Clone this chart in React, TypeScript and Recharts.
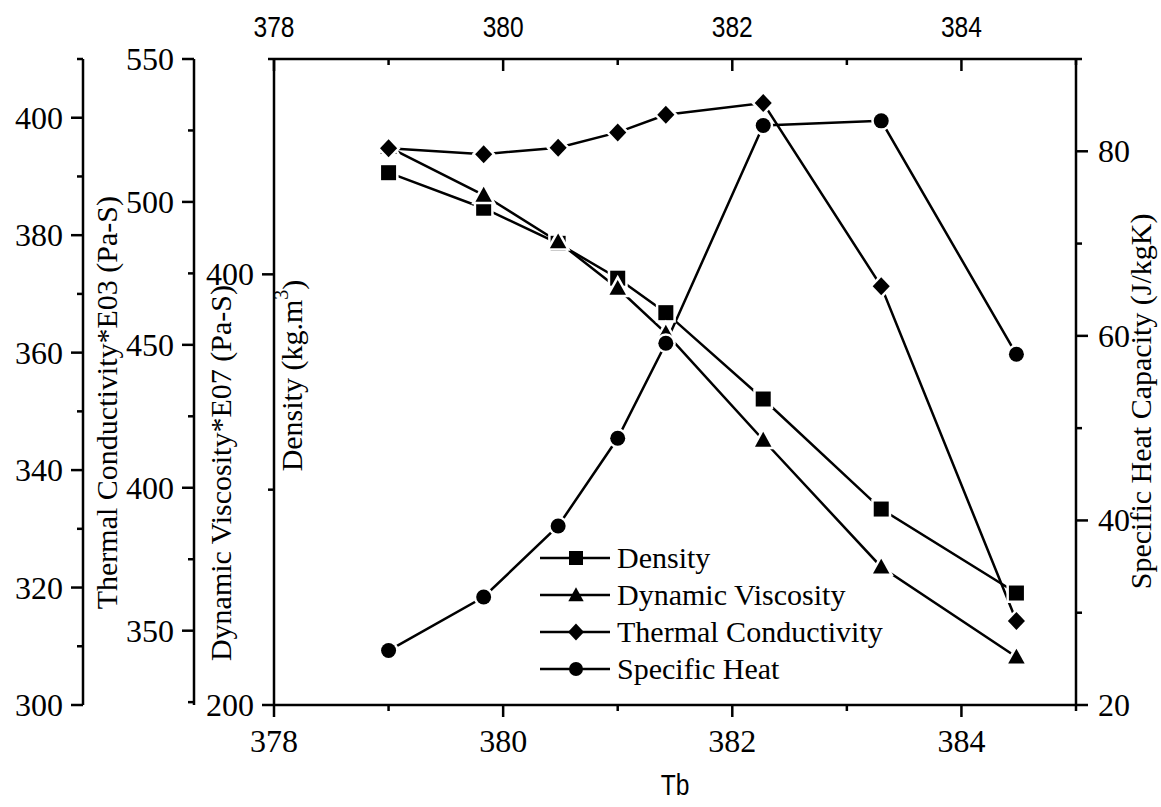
import React from "react";
import { LineChart, Line, XAxis, YAxis, Legend } from "recharts";

// boiling temperature (Tb) and the four properties
const tb = [379.0, 379.83, 380.48, 381.0, 381.42, 382.27, 383.3, 384.48];
const density = [447.2, 430.7, 414.4, 398.2, 382.2, 342.1, 291.0, 252.0];
const viscosity = [519.2, 502.4, 486.1, 469.8, 454.1, 416.7, 372.3, 340.8];
const thermal = [394.8, 393.8, 394.9, 397.5, 400.5, 402.5, 371.3, 314.3];
const specificHeat = [25.9, 31.7, 39.4, 48.9, 59.2, 82.8, 83.3, 58.0];

const tbTicks = [378, 379, 380, 381, 382, 383, 384, 385];
const tbLabels = [378, 380, 382, 384];
const densityTicks = [200, 300, 400, 500];
const densityLabels = [200, 400];
const viscosityTicks = [325, 350, 375, 400, 425, 450, 475, 500, 525, 550];
const viscosityLabels = [350, 400, 450, 500, 550];
const thermalTicks = [300, 310, 320, 330, 340, 350, 360, 370, 380, 390, 400, 410];
const thermalLabels = [300, 320, 340, 360, 380, 400];
const heatTicks = [20, 30, 40, 50, 60, 70, 80, 90];
const heatLabels = [20, 40, 60, 80];

const data = tb.map((t, i) => ({
  tb: t,
  density: density[i],
  viscosity: viscosity[i],
  thermal: thermal[i],
  heat: specificHeat[i],
}));

const serif = "'Liberation Serif', 'Times New Roman', serif";
const sans = "'Liberation Sans', Arial, sans-serif";
const axisStroke = { stroke: "#000", strokeWidth: 2.5 };

type Shape = "square" | "triangle" | "diamond" | "circle";

const shapes: Record<string, Shape> = {
  density: "square",
  viscosity: "triangle",
  thermal: "diamond",
  heat: "circle",
};
const legendOrder = ["density", "viscosity", "thermal", "heat"];

function Marker({ shape, cx, cy, size = 15, halo = 5 }: any) {
  const s = size / 2;
  const common = { fill: "#000", stroke: "#fff", strokeWidth: halo, paintOrder: "stroke" } as any;
  if (shape === "square") return <rect x={cx - s} y={cy - s} width={size} height={size} {...common} />;
  if (shape === "triangle") {
    const h = s * 1.1;
    return <polygon points={`${cx},${cy - h} ${cx + h},${cy + h * 0.8} ${cx - h},${cy + h * 0.8}`} {...common} />;
  }
  if (shape === "diamond") {
    const h = s * 1.2;
    return <polygon points={`${cx},${cy - h} ${cx + h * 0.95},${cy} ${cx},${cy + h} ${cx - h * 0.95},${cy}`} {...common} />;
  }
  return <circle cx={cx} cy={cy} r={s} {...common} />;
}

const dotFor = (shape: Shape) => (p: any) => (
  <Marker key={`${shape}-${p.index}`} shape={shape} cx={p.cx} cy={p.cy} />
);

const serifText = { fontFamily: serif, fontSize: 32, fill: "#000" };

// ticks: long ones carry a label, short ones are minor
function makeTick(side: "left" | "right" | "top" | "bottom", labels: number[]) {
  return (p: any) => {
    const { x, y, payload } = p;
    const v = payload.value;
    const major = labels.includes(v);
    const len = major ? 12 : 6;
    let line = null;
    let text = null;
    if (side === "left") {
      line = <line x1={x - len} y1={y} x2={x} y2={y} {...axisStroke} />;
      if (major)
        text = (
          <text x={x - 20} y={y} textAnchor="end" dominantBaseline="central" style={serifText}>
            {v}
          </text>
        );
    } else if (side === "right") {
      line = <line x1={x} y1={y} x2={x + len} y2={y} {...axisStroke} />;
      if (major)
        text = (
          <text x={x + 22} y={y} textAnchor="start" dominantBaseline="central" style={serifText}>
            {v}
          </text>
        );
    } else if (side === "bottom") {
      line = <line x1={x} y1={y} x2={x} y2={y + len} {...axisStroke} />;
      if (major)
        text = (
          <text x={x} y={y + 36} textAnchor="middle" dominantBaseline="central" style={serifText}>
            {v}
          </text>
        );
    } else {
      line = <line x1={x} y1={y} x2={x} y2={y + len} {...axisStroke} />;
      if (major)
        text = (
          <text
            transform={`translate(${x}, ${y - 32}) scale(0.82, 1)`}
            textAnchor="middle"
            dominantBaseline="central"
            style={{ fontFamily: sans, fontSize: 30, fill: "#000" }}
          >
            {v}
          </text>
        );
    }
    return (
      <g>
        {line}
        {text}
      </g>
    );
  };
}

// rotated axis title placed relative to the axis line
function yTitle(text: React.ReactNode, side: "left" | "right", dx: number, frac: number) {
  return (p: any) => {
    const vb = p.viewBox;
    const lineX = side === "left" ? vb.x + vb.width : vb.x;
    const x = lineX + dx;
    const y = vb.y + vb.height * frac;
    return (
      <text
        x={x}
        y={y}
        transform={`rotate(-90, ${x}, ${y})`}
        textAnchor="middle"
        dominantBaseline="central"
        style={{ fontFamily: serif, fontSize: 30, fill: "#000" }}
      >
        {text}
      </text>
    );
  };
}

function LegendBox(props: any) {
  const payload = [...(props.payload || [])].sort(
    (a: any, b: any) => legendOrder.indexOf(a.dataKey) - legendOrder.indexOf(b.dataKey)
  );
  return (
    <div style={{ fontFamily: serif, fontSize: 30, color: "#000", lineHeight: "37px" }}>
      {payload.map((e: any) => (
        <div key={e.value} style={{ display: "flex", alignItems: "center", height: 37 }}>
          <svg width={70} height={24} style={{ display: "block" }}>
            <line x1={0} y1={12} x2={70} y2={12} stroke="#000" strokeWidth={2.5} />
            <Marker shape={shapes[e.dataKey]} cx={36} cy={12} size={14} halo={0} />
          </svg>
          <span style={{ marginLeft: 7, whiteSpace: "nowrap" }}>{e.value}</span>
        </div>
      ))}
    </div>
  );
}

export default function App() {
  return (
    <div style={{ width: 1161, height: 807, background: "#fff" }}>
      <style>{"body{margin:0}"}</style>
      <LineChart width={1161} height={807} data={data} margin={{ top: 0, right: 0, bottom: 0, left: 0 }}>
        <XAxis
          xAxisId="bottom"
          dataKey="tb"
          type="number"
          domain={[378, 385]}
          allowDataOverflow
          ticks={tbTicks}
          interval={0}
          orientation="bottom"
          height={102}
          axisLine={axisStroke}
          tickLine={false}
          tickSize={0}
          tickMargin={0}
          tick={makeTick("bottom", tbLabels)}
          label={(p: any) => (
            <text
              transform={`translate(${p.viewBox.x + p.viewBox.width / 2}, ${p.viewBox.y + 80}) scale(0.82, 1)`}
              textAnchor="middle"
              dominantBaseline="central"
              style={{ fontFamily: sans, fontSize: 30, fill: "#000" }}
            >
              Tb
            </text>
          )}
        />
        <XAxis
          xAxisId="top"
          dataKey="tb"
          type="number"
          domain={[378, 385]}
          allowDataOverflow
          ticks={tbTicks}
          interval={0}
          orientation="top"
          height={59}
          axisLine={axisStroke}
          tickLine={false}
          tickSize={0}
          tickMargin={0}
          tick={makeTick("top", tbLabels)}
        />
        <YAxis
          yAxisId="a-density"
          type="number"
          domain={[200, 500]}
          allowDataOverflow
          ticks={densityTicks}
          interval={0}
          orientation="left"
          width={80}
          axisLine={axisStroke}
          tickLine={false}
          tickSize={0}
          tickMargin={0}
          tick={makeTick("left", densityLabels)}
          label={yTitle(
            <>
              Density (kg.m<tspan dy={-11} fontSize={20}>3</tspan>
              <tspan dy={11}>)</tspan>
            </>,
            "left",
            18,
            0.49
          )}
        />
        <YAxis
          yAxisId="b-viscosity"
          type="number"
          domain={[324, 550]}
          allowDataOverflow
          ticks={viscosityTicks}
          interval={0}
          orientation="left"
          width={111}
          axisLine={axisStroke}
          tickLine={false}
          tickSize={0}
          tickMargin={0}
          tick={makeTick("left", viscosityLabels)}
          label={yTitle("Dynamic Viscosity*E07 (Pa-S)", "left", 27, 0.641)}
        />
        <YAxis
          yAxisId="c-thermal"
          type="number"
          domain={[300, 410]}
          allowDataOverflow
          ticks={thermalTicks}
          interval={0}
          orientation="left"
          width={83}
          axisLine={axisStroke}
          tickLine={false}
          tickSize={0}
          tickMargin={0}
          tick={makeTick("left", thermalLabels)}
          label={yTitle("Thermal Conductivity*E03 (Pa-S)", "left", 24, 0.532)}
        />
        <YAxis
          yAxisId="d-heat"
          type="number"
          domain={[20, 90]}
          allowDataOverflow
          ticks={heatTicks}
          interval={0}
          orientation="right"
          width={85}
          axisLine={axisStroke}
          tickLine={false}
          tickSize={0}
          tickMargin={0}
          tick={makeTick("right", heatLabels)}
          label={yTitle("Specific Heat Capacity (J/kgK)", "right", 65, 0.53)}
        />
        <Legend
          layout="vertical"
          align="center"
          verticalAlign="middle"
          content={<LegendBox />}
          wrapperStyle={{ left: 540, top: 539, width: "auto", height: "auto" }}
        />
        <Line
          name="Density"
          dataKey="density"
          xAxisId="bottom"
          yAxisId="a-density"
          type="linear"
          stroke="#000"
          strokeWidth={2.5}
          dot={dotFor("square")}
          activeDot={false}
          isAnimationActive={false}
        />
        <Line
          name="Dynamic Viscosity"
          dataKey="viscosity"
          xAxisId="bottom"
          yAxisId="b-viscosity"
          type="linear"
          stroke="#000"
          strokeWidth={2.5}
          dot={dotFor("triangle")}
          activeDot={false}
          isAnimationActive={false}
        />
        <Line
          name="Thermal Conductivity"
          dataKey="thermal"
          xAxisId="bottom"
          yAxisId="c-thermal"
          type="linear"
          stroke="#000"
          strokeWidth={2.5}
          dot={dotFor("diamond")}
          activeDot={false}
          isAnimationActive={false}
        />
        <Line
          name="Specific Heat"
          dataKey="heat"
          xAxisId="bottom"
          yAxisId="d-heat"
          type="linear"
          stroke="#000"
          strokeWidth={2.5}
          dot={dotFor("circle")}
          activeDot={false}
          isAnimationActive={false}
        />
      </LineChart>
    </div>
  );
}
